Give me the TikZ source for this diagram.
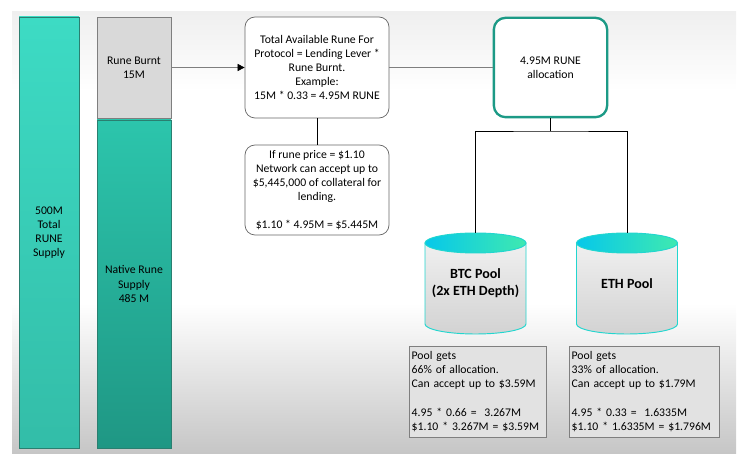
\documentclass[tikz,border=0pt]{standalone}
\usepackage{fontspec}
\setmainfont{Carlito}
\usepackage{xcolor}
\definecolor{turquesa}{HTML}{3DDBC4}
\definecolor{turquesaosc}{HTML}{33BDA8}
\definecolor{verdenativo}{HTML}{2CC5AC}
\definecolor{verdenativoosc}{HTML}{1F9784}
\definecolor{bordeverde}{HTML}{2A7F70}
\definecolor{grisclaro}{HTML}{D9D9D9}
\definecolor{gris}{HTML}{7F7F7F}
\definecolor{grisnota}{HTML}{E2E2E2}
\definecolor{grisalto}{HTML}{EFEFEF}
\definecolor{grisbajo}{HTML}{C6C6C6}
\definecolor{asigborde}{HTML}{1C9A86}
\definecolor{cianpool}{HTML}{06C8EA}
\definecolor{verdepool}{HTML}{3FE9B0}
\definecolor{bordepool}{HTML}{22D6CF}
\usepackage{tikz}
\usetikzlibrary{positioning, arrows.meta}
\pgfdeclareverticalshading{fondo}{100bp}{color(0bp)=(grisbajo); color(25bp)=(grisbajo); color(42bp)=(white); color(66bp)=(white); color(75bp)=(grisalto); color(100bp)=(grisalto)}
% cilindro de un pool: nombre, x, y, texto
\newcommand{\poolcyl}[4]{%
    \path[top color=gray!12, bottom color=gray!35, draw=bordepool, line width=0.8pt] (#2,#3) ++(-1.515,1.215) -- ++(0,-2.43) arc[start angle=180, end angle=360, x radius=1.515, y radius=0.3] -- ++(0,2.43) -- cycle;
    \path[left color=cianpool, right color=verdepool, draw=bordepool, line width=0.8pt] (#2,#3) ++(0,1.215) ellipse[x radius=1.515, y radius=0.3];
    \node[pool] (#1) at (#2,#3) {#4};
}

\begin{document}
\begin{tikzpicture}[
    columna/.style={draw=bordeverde, line width=0.6pt, align=center, inner sep=0pt},
    caja/.style={draw=gris!80!black, line width=0.6pt, fill=white, rounded corners=0.3cm, minimum width=4.32cm, align=center},
    asignacion/.style={draw=asigborde, line width=2pt, fill=white, rounded corners=0.35cm, minimum width=3.4cm, minimum height=2.98cm, align=center},
    pool/.style={minimum width=3.03cm, minimum height=3.03cm, inner sep=0pt, align=center, font=\fontsize{12}{14.5}\selectfont\bfseries},
    nota/.style={draw=gris, line width=0.6pt, fill=grisnota, minimum height=2.73cm, inner xsep=0.08cm, inner ysep=0.15cm, align=left},
    linea/.style={line width=0.6pt, black},
    flecha/.style={line width=0.6pt, gris, -{Triangle[length=6pt, width=6pt, black]}}
]
    \useasboundingbox (0,0) rectangle (22.26,13.74);
    % Fondo
    \shade[shading=fondo] (0.36,0.15) rectangle (22.08,13.38);

    % Columnas de suministro
    \node[columna, top color=turquesa, bottom color=turquesaosc, minimum width=1.8cm, minimum height=12.93cm] (total) at (1.47,6.765) {500M\\Total\\RUNE\\Supply};
    \node[columna, fill=grisclaro, draw=gris, minimum width=2.22cm, minimum height=3.03cm] (quemado) at (4.02,11.715) {Rune Burnt\\15M};
    \node[columna, top color=verdenativo, bottom color=verdenativoosc, minimum width=2.22cm, minimum height=9.84cm] (nativo) at (4.02,5.22) {Native Rune\\Supply\\485 M};

    % Cajas de calculo
    \node[caja, minimum height=3.03cm] (formula) at (9.51,11.715) {Total Available Rune For\\Protocol = Lending Lever *\\Rune Burnt.\\Example:\\15M * 0.33 = 4.95M RUNE};
    \node[caja, minimum height=2.70cm] (precio) at (9.51,8.04) {If rune price = \$1.10\\Network can accept up to\\\$5,445,000 of collateral for\\lending.\\[\baselineskip]\$1.10 * 4.95M = \$5.445M};
    \node[asignacion] (asig) at (16.515,11.715) {4.95M RUNE\\allocation};

    \draw[flecha] (quemado) -- (formula);
    \draw[line width=0.6pt, gris] (formula) -- (asig);
    \draw[linea] (formula) -- (precio);

    % Pools
    \poolcyl{btc}{14.265}{5.235}{BTC Pool\\(2x ETH Depth)}
    \poolcyl{eth}{18.81}{5.235}{ETH Pool}

    \coordinate (rama) at (16.515,9.81);
    \draw[linea] (asig) -- (rama);
    \draw[linea] (btc.north) |- (rama) -| (eth.north);

    % Notas de cada pool
    \node[nota, text width=3.95cm] (notabtc) at (14.325,1.995) {Pool gets\\66\% of allocation.\\Can accept up to \$3.59M\\[\baselineskip]4.95 * 0.66 = \ 3.267M\\\$1.10 * 3.267M = \$3.59M};
    \node[nota, text width=4.34cm] (notaeth) at (19.32,1.995) {Pool gets\\33\% of allocation.\\Can accept up to \$1.79M\\[\baselineskip]4.95 * 0.33 = \ 1.6335M\\\$1.10 * 1.6335M = \$1.796M};
\end{tikzpicture}
\end{document}
